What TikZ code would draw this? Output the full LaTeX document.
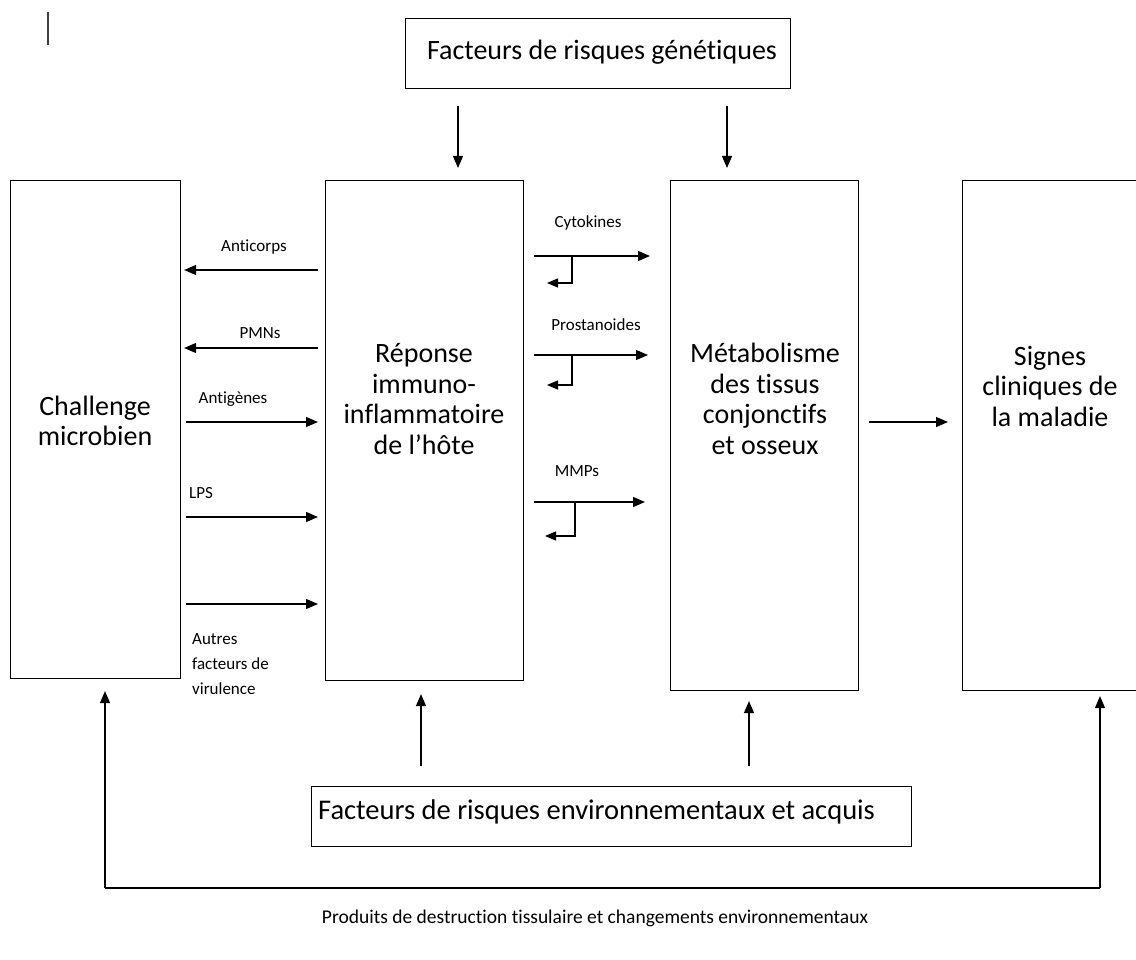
\documentclass[tikz,border=0pt]{standalone}
\usepackage{fontspec}
\setmainfont{Carlito}[Ligatures=NoCommon]
\usetikzlibrary{arrows.meta}
\begin{document}
\begin{tikzpicture}[x=1pt,y=-1pt,
  box/.style={draw, line width=1.1pt, inner sep=0pt, anchor=north west},
  big/.style={font=\fontsize{28}{30.5}\selectfont, align=center, inner sep=0pt},
  hdr/.style={font=\fontsize{28}{30}\selectfont, inner sep=0pt},
  small/.style={font=\fontsize{17}{25}\selectfont, inner sep=0pt},
  arr/.style={line width=1.3pt, -{Triangle[length=12pt,width=10pt]}},
  sarr/.style={line width=1.3pt, -{Triangle[length=11pt,width=9pt]}},
  ln/.style={line width=1.3pt},
]
\useasboundingbox (0,0) rectangle (1136,960);
% top-left stray mark
\draw[line width=1.6pt, black!75] (48,12) -- (48,45);

% boxes
\node[box, minimum width=385pt, minimum height=70pt] (gen) at (405,18) {};
\node[hdr] at (602,52) {Facteurs de risques génétiques};
\node[box, minimum width=170pt, minimum height=498pt] (chal) at (10,180) {};
\node[box, minimum width=198pt, minimum height=500pt] (mid) at (325,180) {};
\node[box, minimum width=188pt, minimum height=510pt] (meta) at (670,180) {};
\node[box, minimum width=190pt, minimum height=510pt] (sig) at (962,180) {};
\node[box, minimum width=600pt, minimum height=60pt] (env) at (311,786) {};
\node[hdr, anchor=west, font=\fontsize{28.5}{30}\selectfont] at (318,812) {Facteurs de risques environnementaux et acquis};

\node[big] (tchal) at (95,421) {Challenge\\microbien};
\node[big] (tmid) at (424,399) {Réponse\\immuno-\\inflammatoire\\de l’hôte};
\node[big] (tmeta) at (765,399) {Métabolisme\\des tissus\\conjonctifs\\et osseux};
\node[big] (tsig) at (1050,386) {Signes\\cliniques de\\la maladie};

% genetic arrows
\draw[arr, shorten <=17pt, shorten >=12pt] (gen.south -| 458,0) -- (mid.north -| 458,0);
\draw[arr, shorten <=17pt, shorten >=12pt] (gen.south -| 727,0) -- (meta.north -| 727,0);

% microbial <-> host
\draw[arr, shorten <=7pt, shorten >=3pt] (mid.west |- 0,270) -- (chal.east |- 0,270);
\node[small] at (254,247) {Anticorps};
\draw[arr, shorten <=7pt, shorten >=3pt] (mid.west |- 0,348) -- (chal.east |- 0,348);
\node[small] at (260,333) {PMNs};
\draw[arr, shorten <=5pt, shorten >=7pt] (chal.east |- 0,422) -- (mid.west |- 0,422);
\node[small] at (233,399) {Antigènes};
\draw[arr, shorten <=5pt, shorten >=7pt] (chal.east |- 0,517) -- (mid.west |- 0,517);
\node[small] at (201,493) {LPS};
\draw[arr, shorten <=5pt, shorten >=7pt] (chal.east |- 0,604) -- (mid.west |- 0,604);
\node[small, align=left, anchor=north west] at (192,633) {Autres\\facteurs de\\virulence};

% host -> metabolism
\draw[arr, shorten <=10pt, shorten >=20pt] (mid.east |- 0,256) -- (meta.west |- 0,256);
\coordinate (b1) at (572,256);
\draw[sarr] (b1) -- (572,283) -- (547,283);
\node[small] at (588,223) {Cytokines};
\draw[arr, shorten <=10pt, shorten >=22pt] (mid.east |- 0,355) -- (meta.west |- 0,355);
\coordinate (b2) at (572,355);
\draw[sarr] (b2) -- (572,385) -- (547,385);
\node[small] at (596,325) {Prostanoides};
\draw[arr, shorten <=10pt, shorten >=25pt] (mid.east |- 0,502) -- (meta.west |- 0,502);
\coordinate (b3) at (575,502);
\draw[sarr] (b3) -- (575,536) -- (545,536);
\node[small] at (577,471) {MMPs};

% metabolism -> signs
\draw[arr, shorten <=10pt, shorten >=14pt] (meta.east |- 0,422) -- (sig.west |- 0,422);

% environmental arrows
\draw[arr, shorten <=20pt, shorten >=13pt] (env.north -| 421,0) -- (mid.south -| 421,0);
\draw[arr, shorten <=20pt, shorten >=10pt] (env.north -| 749,0) -- (meta.south -| 749,0);

% feedback loop
\coordinate (fl) at (105,888);
\coordinate (fr) at (1100,888);
\draw[ln] (fl) -- (fr);
\draw[arr, shorten >=12pt] (fl) -- (chal.south -| fl);
\draw[arr, shorten >=5pt] (fr) -- (sig.south -| fr);
\node[small, font=\fontsize{19.5}{24}\selectfont] at (595,918) {Produits de destruction tissulaire et changements environnementaux};
\end{tikzpicture}
\end{document}
